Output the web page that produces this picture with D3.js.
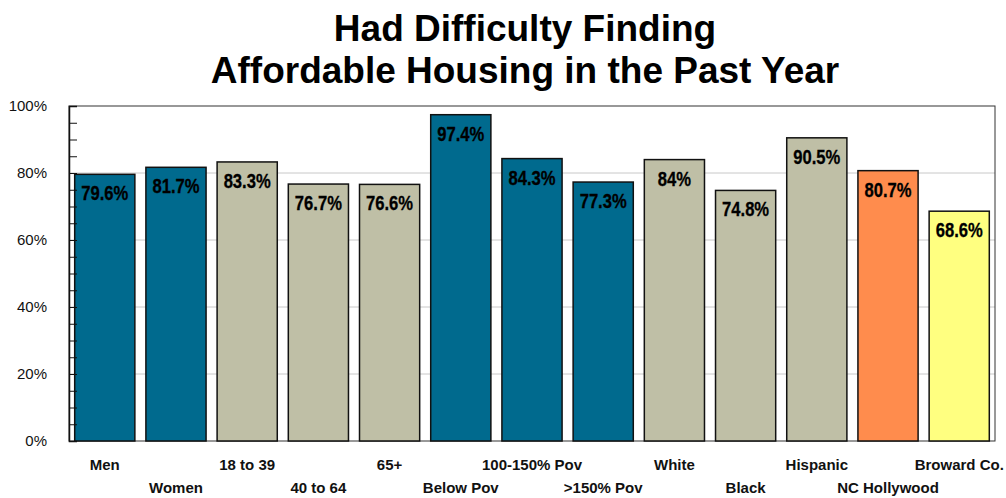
<!DOCTYPE html>
<html>
<head>
<meta charset="utf-8">
<script src="https://cdn.jsdelivr.net/npm/d3@7"></script>
<style>
  body { margin: 0; background: #fff; }
  text { font-family: "Liberation Sans", Arial, sans-serif; }
</style>
</head>
<body>
<div id="chart"></div>
<script>
// data
var categories = ["Men", "Women", "18 to 39", "40 to 64", "65+", "Below Pov", "100-150% Pov",
                  ">150% Pov", "White", "Black", "Hispanic", "NC Hollywood", "Broward Co."];
var values = [79.6, 81.7, 83.3, 76.7, 76.6, 97.4, 84.3, 77.3, 84, 74.8, 90.5, 80.7, 68.6];
var valueLabels = ["79.6%", "81.7%", "83.3%", "76.7%", "76.6%", "97.4%", "84.3%",
                   "77.3%", "84%", "74.8%", "90.5%", "80.7%", "68.6%"];
var groups = ["sex", "sex", "age", "age", "age", "pov", "pov", "pov", "race", "race", "race", "nc", "county"];
var yTicks = [0, 20, 40, 60, 80, 100];

var colors = {sex: "#006a8e", age: "#bfbfa6", pov: "#006a8e", race: "#bfbfa6", nc: "#ff8c4d", county: "#ffff80"};

var width = 1006, height = 498;
var margin = {top: 106, right: 11, bottom: 57, left: 69};
var w = width - margin.left - margin.right;
var h = height - margin.top - margin.bottom;

var svg = d3.select("#chart").append("svg")
    .attr("width", width)
    .attr("height", height);

// title
svg.append("text")
    .attr("x", 525).attr("y", 41)
    .attr("text-anchor", "middle")
    .style("font-size", "37px").style("font-weight", "bold")
    .text("Had Difficulty Finding");
svg.append("text")
    .attr("x", 525).attr("y", 83)
    .attr("text-anchor", "middle")
    .style("font-size", "37px").style("font-weight", "bold")
    .text("Affordable Housing in the Past Year");

var g = svg.append("g")
    .attr("transform", "translate(" + margin.left + "," + margin.top + ")");

var x = d3.scaleBand()
    .domain(categories)
    .range([0, w])
    .paddingInner(0.155)
    .paddingOuter(0.08);

var y = d3.scaleLinear()
    .domain([0, 100])
    .range([h, 0]);

// gridlines
g.selectAll(".grid")
    .data(yTicks.slice(1, -1))
    .enter().append("line")
    .attr("x1", 0).attr("x2", w)
    .attr("y1", function(d) { return y(d); })
    .attr("y2", function(d) { return y(d); })
    .attr("stroke", "#c8c8c8")
    .attr("stroke-width", 1);

// frame
g.append("rect")
    .attr("width", w).attr("height", h)
    .attr("fill", "none")
    .attr("stroke", "#333")
    .attr("stroke-width", 1);

// bars
g.selectAll(".bar")
    .data(values)
    .enter().append("rect")
    .attr("class", "bar")
    .attr("x", function(d, i) { return x(categories[i]); })
    .attr("y", function(d) { return y(d); })
    .attr("width", x.bandwidth())
    .attr("height", function(d) { return h - y(d); })
    .attr("fill", function(d, i) { return colors[groups[i]]; })
    .attr("stroke", "#111")
    .attr("stroke-width", 1.5);

// value labels (narrowed a bit, like the original's condensed bold)
g.selectAll(".val")
    .data(values)
    .enter().append("text")
    .attr("class", "val")
    .attr("x", function(d, i) { return x(categories[i]) + x.bandwidth() / 2; })
    .attr("y", function(d) { return y(d) + 26; })
    .attr("text-anchor", "middle")
    .style("font-size", "20px").style("font-weight", "bold")
    .attr("fill", "#000")
    .attr("stroke", "#000").attr("stroke-width", 0.3)
    .text(function(d, i) { return valueLabels[i]; })
    .each(function() {
        var len = this.getComputedTextLength();
        d3.select(this).attr("textLength", len * 0.83).attr("lengthAdjust", "spacingAndGlyphs");
    });

// y axis, ticks pointing inward every 5%
var yAxis = d3.axisRight(y)
    .tickValues(d3.range(0, 101, 5))
    .tickSize(8)
    .tickFormat("");
g.append("g")
    .call(yAxis)
    .call(function(a) {
        a.select(".domain").attr("stroke", "#111").attr("stroke-width", 1.5);
        a.selectAll(".tick line").attr("stroke", "#111");
    });

g.selectAll(".ylab")
    .data(yTicks)
    .enter().append("text")
    .attr("x", -22)
    .attr("y", function(d) { return y(d) + 5; })
    .attr("text-anchor", "end")
    .style("font-size", "15px")
    .attr("fill", "#111")
    .text(function(d) { return d + "%"; });

// category labels, staggered on two rows
g.selectAll(".xlab")
    .data(categories)
    .enter().append("text")
    .attr("x", function(d) { return x(d) + x.bandwidth() / 2; })
    .attr("y", function(d, i) { return h + (i % 2 === 0 ? 29 : 52); })
    .attr("text-anchor", "middle")
    .style("font-size", "15px").style("font-weight", "bold")
    .attr("fill", "#111")
    .text(function(d) { return d; });
</script>
</body>
</html>
